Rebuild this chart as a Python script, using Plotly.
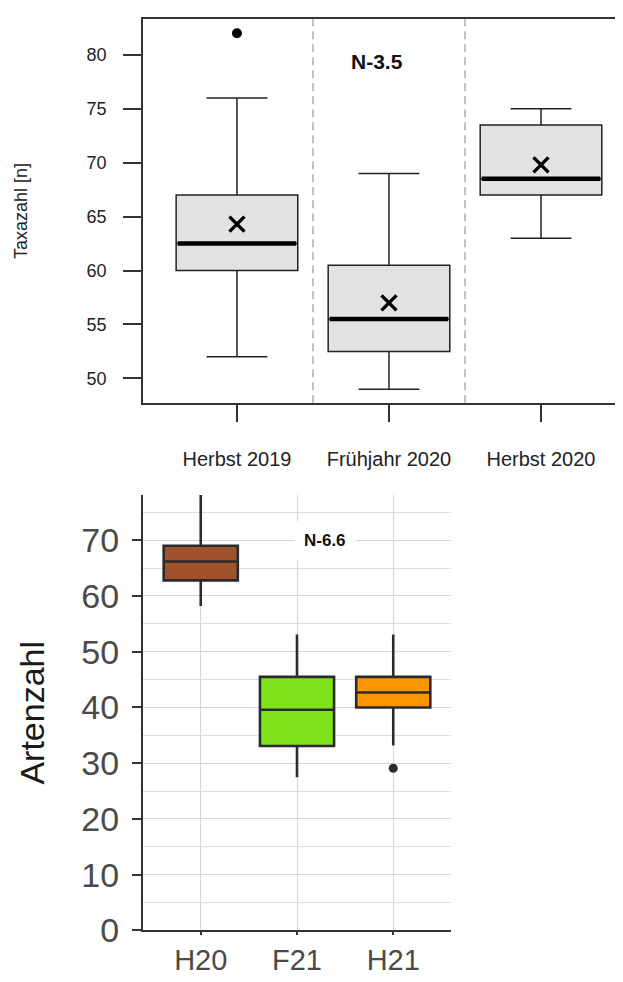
import plotly.graph_objects as go

# ---------------- data: top chart (Taxazahl) ----------------
top_labels = ["Herbst 2019", "Frühjahr 2020", "Herbst 2020"]
top_lower = [52, 49, 63]
top_q1 = [60, 52.5, 67]
top_median = [62.5, 55.5, 68.5]
top_q3 = [67, 60.5, 73.5]
top_upper = [76, 69, 75]
top_mean = [64.3, 57.0, 69.8]
top_outlier_x = [0]
top_outlier_y = [82]
top_note = "N-3.5"

# ---------------- data: bottom chart (Artenzahl) ----------------
bot_labels = ["H20", "F21", "H21"]
bot_lower = [58.2, 27.5, 33.2]
bot_q1 = [62.8, 33.1, 40.0]
bot_median = [66.2, 39.6, 42.7]
bot_q3 = [69.0, 45.5, 45.5]
bot_upper = [78.1, 53.1, 53.1]
bot_colors = ["#A0522D", "#80E31A", "#FF9500"]
bot_outlier_x = [2]
bot_outlier_y = [29.1]
bot_note = "N-6.6"

FONT = "Liberation Sans, Arial, sans-serif"
W, H = 623, 982

def xf(px):
    return px / W

def yf(px):
    return 1 - px / H

top_pos = list(range(len(top_labels)))
bot_pos = list(range(len(bot_labels)))
TOP_W = 0.8
BOT_W = 0.77

fig = go.Figure()

# ---- top boxes ----
fig.add_trace(go.Box(
    x=top_pos, q1=top_q1, median=top_median, q3=top_q3,
    lowerfence=top_lower, upperfence=top_upper,
    width=TOP_W, whiskerwidth=0.5,
    fillcolor="#e2e2e2", line=dict(color="#222222", width=1.5),
    boxpoints=False, xaxis="x", yaxis="y", hoverinfo="skip"))

# thick median lines
mx, my = [], []
for p, m in zip(top_pos, top_median):
    mx += [p - TOP_W / 2 + 0.01, p + TOP_W / 2 - 0.01, None]
    my += [m, m, None]
fig.add_trace(go.Scatter(x=mx, y=my, mode="lines",
                         line=dict(color="black", width=4.5),
                         xaxis="x", yaxis="y", hoverinfo="skip"))

# mean markers
fig.add_trace(go.Scatter(x=top_pos, y=top_mean, mode="markers",
                         marker=dict(symbol="x-thin", size=15,
                                     line=dict(color="black", width=3.4)),
                         xaxis="x", yaxis="y", hoverinfo="skip"))
# outlier
fig.add_trace(go.Scatter(x=top_outlier_x, y=top_outlier_y, mode="markers",
                         marker=dict(symbol="circle", size=10, color="black"),
                         xaxis="x", yaxis="y", hoverinfo="skip"))

# ---- bottom boxes ----
for p, lo, a, m, b, hi, c in zip(bot_pos, bot_lower, bot_q1, bot_median,
                                 bot_q3, bot_upper, bot_colors):
    fig.add_trace(go.Box(
        x=[p], q1=[a], median=[m], q3=[b], lowerfence=[lo], upperfence=[hi],
        width=BOT_W, whiskerwidth=0, fillcolor=c,
        line=dict(color="#2b2b2b", width=2.6),
        boxpoints=False, xaxis="x2", yaxis="y2", hoverinfo="skip"))

fig.add_trace(go.Scatter(x=bot_outlier_x, y=bot_outlier_y, mode="markers",
                         marker=dict(symbol="circle", size=9, color="#2b2b2b"),
                         xaxis="x2", yaxis="y2", hoverinfo="skip"))

# ---- separators in top chart (between categories) ----
shapes = []
for i in range(len(top_pos) - 1):
    xm = (top_pos[i] + top_pos[i + 1]) / 2
    shapes.append(dict(type="line", xref="x", yref="y domain",
                       x0=xm, x1=xm, y0=0, y1=1,
                       line=dict(color="#9a9a9a", width=1.2, dash="8px,5px")))

annotations = [
    dict(text="<b>%s</b>" % top_note, x=0.92, y=79.4, xref="x", yref="y",
         showarrow=False, font=dict(family=FONT, size=21, color="#111111")),
    dict(text="<b>%s</b>" % bot_note, x=1.29, y=69.9, xref="x2", yref="y2",
         showarrow=False, bgcolor="white", borderpad=9,
         font=dict(family=FONT, size=17, color="#111111")),
]

fig.update_layout(
    width=W, height=H,
    margin=dict(l=0, r=0, t=0, b=0),
    paper_bgcolor="white", plot_bgcolor="white",
    showlegend=False,
    shapes=shapes, annotations=annotations,
    xaxis=dict(domain=[xf(135), 1], range=[-0.618, 2.592], anchor="y",
               tickvals=top_pos, ticktext=top_labels,
               ticks="outside", ticklen=17, tickwidth=1.5, tickcolor="#333333",
               showline=True, mirror=True, linecolor="#333333", linewidth=1.5,
               showgrid=False, zeroline=False, ticklabelstandoff=20,
               tickfont=dict(family=FONT, size=20, color="#222222")),
    yaxis=dict(domain=[yf(403), yf(11)], range=[47.70, 83.34], anchor="x",
               tickvals=[50, 55, 60, 65, 70, 75, 80],
               ticks="outside", ticklen=18, tickwidth=1.5, tickcolor="#333333",
               showline=True, mirror=False, linecolor="#333333", linewidth=1.5,
               showgrid=False, zeroline=False, ticklabelstandoff=13,
               tickfont=dict(family=FONT, size=18, color="#222222"),
               title=dict(text="Taxazahl [n]", standoff=54,
                          font=dict(family=FONT, size=18, color="#222222"))),
    xaxis2=dict(domain=[xf(135), xf(443)], range=[-0.6, 2.6], anchor="y2",
                tickvals=bot_pos, ticktext=bot_labels,
                ticks="outside", ticklen=3, tickwidth=1.5, tickcolor="#333333",
                showline=True, linecolor="#333333", linewidth=2,
                showgrid=True, gridcolor="#d6d6d6", gridwidth=1.2,
                zeroline=False, ticklabelstandoff=0,
                tickfont=dict(family=FONT, size=29, color="#4a4a4a")),
    yaxis2=dict(domain=[yf(940.7), yf(496.7)], range=[0, 78.1], anchor="x2",
                tickvals=[0, 10, 20, 30, 40, 50, 60, 70],
                ticks="outside", ticklen=9, tickwidth=1.5, tickcolor="#333333",
                showline=True, linecolor="#333333", linewidth=2,
                showgrid=True, gridcolor="#d6d6d6", gridwidth=1.2,
                minor=dict(dtick=5, showgrid=True, gridcolor="#dedede",
                           gridwidth=1.2),
                zeroline=False, ticklabelstandoff=6,
                tickfont=dict(family=FONT, size=34, color="#4a4a4a"),
                title=dict(text="Artenzahl", standoff=26,
                           font=dict(family=FONT, size=34, color="#1a1a1a"))),
)

fig.write_html("out.html")
